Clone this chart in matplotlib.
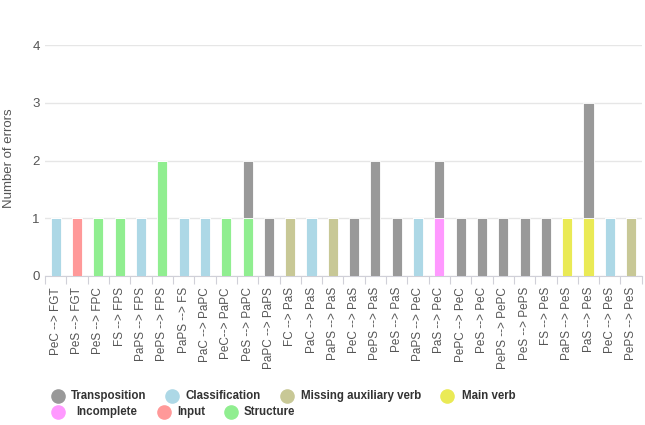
import numpy as np
import matplotlib
matplotlib.use('Agg')
import matplotlib.pyplot as plt

plt.rcParams['font.family'] = ['Liberation Sans', 'DejaVu Sans']

# ----------------------------- DATA -----------------------------

categories = ['PeC --> FGT', 'PeS --> FGT', 'PeS --> FPC', 'FS --> FPS',
              'PaPS --> FPS', 'PePS --> FPS', 'PaPS --> FS', 'PaC --> PaPC',
              'PeC--> PaPC', 'PeS --> PaPC', 'PaPC --> PaPS', 'FC --> PaS',
              'PaC --> PaS', 'PaPS --> PaS', 'PeC --> PaS', 'PePS --> PaS',
              'PeS --> PaS', 'PaPS --> PeC', 'PaS --> PeC', 'PePC --> PeC',
              'PeS --> PeC', 'PePS --> PePC', 'PeS --> PePS', 'FS --> PeS',
              'PaPS --> PeS', 'PaS --> PeS', 'PeC --> PeS', 'PePS --> PeS']

classification = [1, 0, 0, 0, 1, 0, 1, 1, 0, 0, 0, 0, 1, 0, 0, 0, 0, 1, 0, 0, 0, 0, 0, 0, 0, 0, 1, 0]
missing_aux    = [0, 0, 0, 0, 0, 0, 0, 0, 0, 0, 0, 1, 0, 1, 0, 0, 0, 0, 0, 0, 0, 0, 0, 0, 0, 0, 0, 1]
main_verb      = [0, 0, 0, 0, 0, 0, 0, 0, 0, 0, 0, 0, 0, 0, 0, 0, 0, 0, 0, 0, 0, 0, 0, 0, 1, 1, 0, 0]
incomplete     = [0, 0, 0, 0, 0, 0, 0, 0, 0, 0, 0, 0, 0, 0, 0, 0, 0, 0, 1, 0, 0, 0, 0, 0, 0, 0, 0, 0]
input_err      = [0, 1, 0, 0, 0, 0, 0, 0, 0, 0, 0, 0, 0, 0, 0, 0, 0, 0, 0, 0, 0, 0, 0, 0, 0, 0, 0, 0]
structure      = [0, 0, 1, 1, 0, 2, 0, 0, 1, 1, 0, 0, 0, 0, 0, 0, 0, 0, 0, 0, 0, 0, 0, 0, 0, 0, 0, 0]
transposition  = [0, 0, 0, 0, 0, 0, 0, 0, 0, 1, 1, 0, 0, 0, 1, 2, 1, 0, 1, 1, 1, 1, 1, 1, 0, 2, 0, 0]

# stacking order, bottom to top
series = [('Classification', classification, '#add8e6'),
          ('Missing auxiliary verb', missing_aux, '#c8c896'),
          ('Main verb', main_verb, '#eaea55'),
          ('Incomplete', incomplete, '#ff99ff'),
          ('Input', input_err, '#ff9999'),
          ('Structure', structure, '#90ee90'),
          ('Transposition', transposition, '#999999')]

# legend order as in the chart
legend_rows = [[('Transposition', '#999999'), ('Classification', '#add8e6'),
                ('Missing auxiliary verb', '#c8c896'), ('Main verb', '#eaea55')],
               [('Incomplete', '#ff99ff'), ('Input', '#ff9999'), ('Structure', '#90ee90')]]

# ----------------------------- PLOT -----------------------------

fig = plt.figure(figsize=(6.45, 4.25), dpi=100)
ax = fig.add_axes([0.070, 0.3506, 0.925, 0.5434])

x = np.arange(len(categories))
bottom = np.zeros(len(categories))
for name, vals, col in series:
    vals = np.array(vals, dtype=float)
    ax.bar(x, vals, bottom=bottom, width=0.47, color=col, edgecolor='white', linewidth=0.6, zorder=3)
    bottom += vals

ax.set_xlim(-0.5, len(categories) - 0.5)
ax.set_ylim(0, 4)
ax.set_yticks([0, 1, 2, 3, 4])
ax.yaxis.grid(True, color='#e6e6e6', linewidth=1, zorder=0)
for s in ['top', 'right', 'left']:
    ax.spines[s].set_visible(False)
ax.spines['bottom'].set_color('#d0d0d8')
ax.tick_params(axis='y', length=0, labelsize=9.5, labelcolor='#555555', pad=4)

ax.set_xticks(x)
ax.set_xticklabels(categories, rotation=90, fontsize=8.5, color='#555555')
ax.set_xticks(np.arange(len(categories) + 1) - 0.5, minor=True)
ax.tick_params(axis='x', which='major', length=0, pad=8)
ax.tick_params(axis='x', which='minor', length=6, color='#d0d0d8', width=0.8)

W, H = 645.0, 425.0
fig.text(9 / W, 1 - 158 / H, 'Number of errors', fontsize=9.5, color='#555555',
         rotation=90, ha='center', va='center')

# ----------------------------- LEGEND -----------------------------

row_y = [396, 412]
marker_x = [[58, 172, 287, 447], [58, 164, 231]]
text_x = [[71, 185, 301, 462], [76, 177, 244]]
for r, row in enumerate(legend_rows):
    for i, (name, col) in enumerate(row):
        fig.add_artist(plt.Line2D([marker_x[r][i] / W], [1 - row_y[r] / H], marker='o',
                                  markersize=9.5, color=col, linestyle='none',
                                  transform=fig.transFigure))
        fig.text(text_x[r][i] / W, 1 - row_y[r] / H, name, fontsize=8.3, fontweight='bold',
                 color='#333333', va='center', ha='left')

fig.savefig('out.png', dpi=100)
